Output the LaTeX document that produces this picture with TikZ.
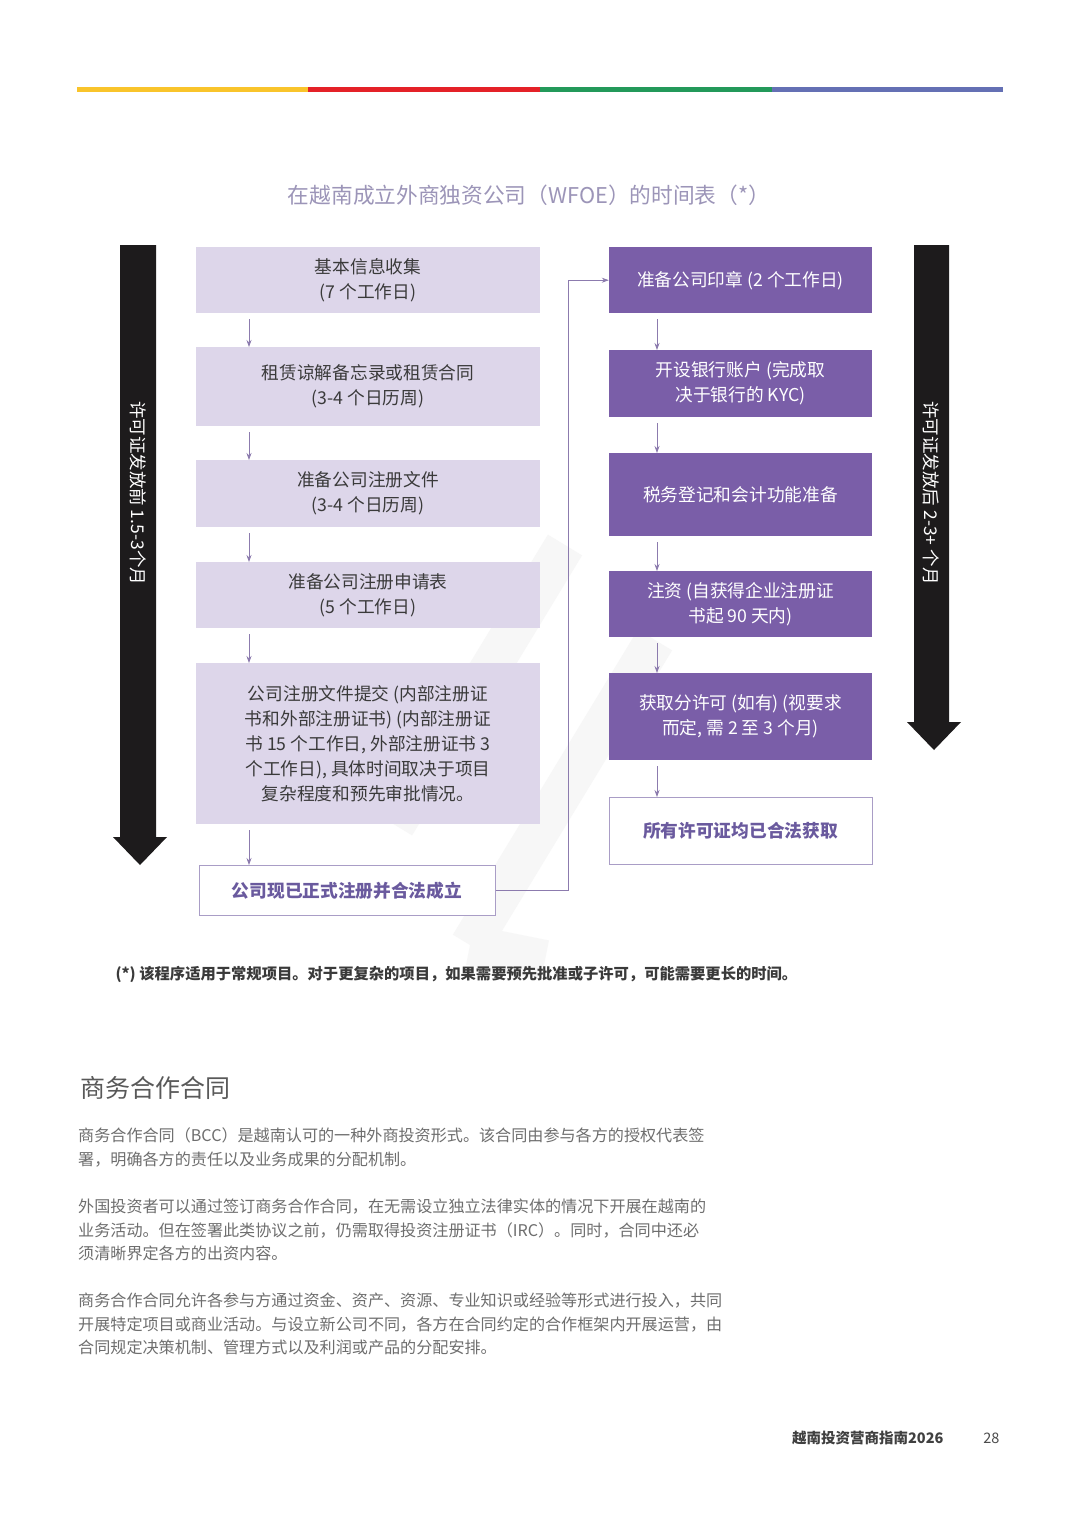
\documentclass[tikz,border=0pt]{standalone}
\usepackage{fontspec}
\setmainfont{Noto Sans CJK SC}
\usepackage{xcolor}
\usetikzlibrary{shapes,arrows,arrows.meta,positioning}

\definecolor{barY}{HTML}{F9C42B}
\definecolor{barR}{HTML}{E42128}
\definecolor{barG}{HTML}{23995A}
\definecolor{barB}{HTML}{6470B4}
\definecolor{lav}{HTML}{DDD6EA}
\definecolor{purp}{HTML}{7A5EA8}
\definecolor{edge}{HTML}{A99DC6}
\definecolor{endtxt}{HTML}{6A5A9E}
\definecolor{conn}{HTML}{8C7BAE}
\definecolor{titletxt}{HTML}{9C95B8}
\definecolor{txtdark}{HTML}{3A3A3A}
\definecolor{bodytxt}{HTML}{6E6E6E}
\definecolor{blackbar}{HTML}{1D1B1C}

\begin{document}
\begin{tikzpicture}[
    x=1pt, y=-1pt,
    lblock/.style={fill=lav, anchor=north, minimum width=344pt, inner sep=0pt, align=center, text=txtdark, font=\fontsize{17.7}{25}\selectfont},
    pblock/.style={fill=purp, anchor=north, minimum width=263pt, inner sep=0pt, align=center, text=white, font=\fontsize{17.7}{25}\selectfont},
    endblock/.style={draw=edge, line width=1pt, fill=white, anchor=north, inner sep=0pt, align=center, text=endtxt, font=\fontsize{17.7}{25}\selectfont\bfseries},
    arrow/.style={-{Stealth[length=7pt,width=5pt]}, draw=conn, line width=0.8pt},
    sidetext/.style={rotate=-90, text=white, font=\fontsize{17.5}{20}\selectfont}
]
    \useasboundingbox (0,0) rectangle (1080,1527);
    \fill[white] (0,0) rectangle (1080,1527);

    % Colour bar
    \fill[barY] (77,87) rectangle (308,92);
    \fill[barR] (308,87) rectangle (540,92);
    \fill[barG] (540,87) rectangle (772,92);
    \fill[barB] (772,87) rectangle (1003,92);

    % Watermark
    \draw[black!3, line width=40pt] (565,545) -- (395,825);
    \draw[black!3, line width=40pt] (655,640) -- (470,945);
    \draw[black!3, line width=40pt] (470,945) -- (545,960);

    % Title
    \node[text=titletxt, font=\fontsize{21.7}{24}\selectfont] (title) at (529,195) {在越南成立外商独资公司（WFOE）的时间表（*）};

    % Big arrows
    \fill[blackbar] (120,245) -- (156,245) -- (156,837) -- (167,837) -- (140,865) -- (113,837) -- (120,837) -- cycle;
    \node[sidetext] (before) at (138,493) {许可证发放前 1.5-3个月};
    \fill[blackbar] (914,245) -- (949,245) -- (949,722) -- (961,722) -- (934,750) -- (907,722) -- (914,722) -- cycle;
    \node[sidetext] (after) at (931,493) {许可证发放后 2-3+ 个月};

    % Left column
    \node[lblock, minimum height=66pt] (b1) at (368,247) {基本信息收集\\(7 个工作日)};
    \node[lblock, minimum height=79pt] (b2) at (368,347) {租赁谅解备忘录或租赁合同\\(3-4 个日历周)};
    \node[lblock, minimum height=67pt] (b3) at (368,460) {准备公司注册文件\\(3-4 个日历周)};
    \node[lblock, minimum height=66pt] (b4) at (368,562) {准备公司注册申请表\\(5 个工作日)};
    \node[lblock, minimum height=161pt] (b5) at (368,663) {公司注册文件提交 (内部注册证\\书和外部注册证书) (内部注册证\\书 15 个工作日, 外部注册证书 3\\个工作日), 具体时间取决于项目\\复杂程度和预先审批情况。};
    \node[endblock, minimum width=296pt, minimum height=50pt] (b6) at (347,865) {公司现已正式注册并合法成立};

    % Right column
    \node[pblock, minimum height=66pt] (r1) at (740.5,247) {准备公司印章 (2 个工作日)};
    \node[pblock, minimum height=67pt] (r2) at (740.5,350) {开设银行账户 (完成取\\决于银行的 KYC)};
    \node[pblock, minimum height=83pt] (r3) at (740.5,453) {税务登记和会计功能准备};
    \node[pblock, minimum height=66pt] (r4) at (740.5,571) {注资 (自获得企业注册证\\书起 90 天内)};
    \node[pblock, minimum height=87pt] (r5) at (740.5,673) {获取分许可 (如有) (视要求\\而定, 需 2 至 3 个月)};
    \node[endblock, minimum width=263pt, minimum height=67pt] (r6) at (740.5,797) {所有许可证均已合法获取};

    % Arrows
    \foreach \a/\b in {b1/b2, b2/b3, b3/b4, b4/b5, b5/b6}
        \draw[arrow] ([xshift=-119pt]b1.south |- \a.south) ++(0,6) -- ([xshift=-119pt]b1.south |- \b.north);
    \foreach \a/\b in {r1/r2, r2/r3, r3/r4, r4/r5, r5/r6}
        \draw[arrow] ([xshift=-83.5pt]r1.south |- \a.south) ++(0,6) -- ([xshift=-83.5pt]r1.south |- \b.north);
    \draw[arrow] (b6.east) -| ([xshift=-40pt]r1.west) -- (r1.west);

    % Footnote
    \node[anchor=west, text=txtdark, font=\fontsize{15.3}{18}\selectfont\bfseries] (note) at (112,974) {(*) 该程序适用于常规项目。对于更复杂的项目，如果需要预先批准或子许可，可能需要更长的时间。};

    % Text section
    \node[anchor=west, text=black!65, font=\fontsize{25}{28}\selectfont] (head) at (77,1088) {商务合作合同};
    \node[anchor=north west, inner sep=0pt, align=left, text=bodytxt, font=\fontsize{16.1}{23.5}\selectfont] (para1) at (78,1128) {商务合作合同（BCC）是越南认可的一种外商投资形式。该合同由参与各方的授权代表签\\署，明确各方的责任以及业务成果的分配机制。};
    \node[anchor=north west, inner sep=0pt, align=left, text=bodytxt, font=\fontsize{16.1}{23.5}\selectfont] (para2) at (78,1199) {外国投资者可以通过签订商务合作合同，在无需设立独立法律实体的情况下开展在越南的\\业务活动。但在签署此类协议之前，仍需取得投资注册证书（IRC）。同时，合同中还必\\须清晰界定各方的出资内容。};
    \node[anchor=north west, inner sep=0pt, align=left, text=bodytxt, font=\fontsize{16.1}{23.5}\selectfont] (para3) at (78,1293) {商务合作合同允许各参与方通过资金、资产、资源、专业知识或经验等形式进行投入，共同\\开展特定项目或商业活动。与设立新公司不同，各方在合同约定的合作框架内开展运营，由\\合同规定决策机制、管理方式以及利润或产品的分配安排。};

    % Footer
    \node[anchor=east, text=black!75, font=\fontsize{14.5}{16}\selectfont\bfseries] (footer) at (947,1438) {越南投资营商指南2026};
    \node[anchor=east, text=black!70, font=\fontsize{14.5}{16}\selectfont] (page) at (1003,1438) {28};
\end{tikzpicture}
\end{document}
